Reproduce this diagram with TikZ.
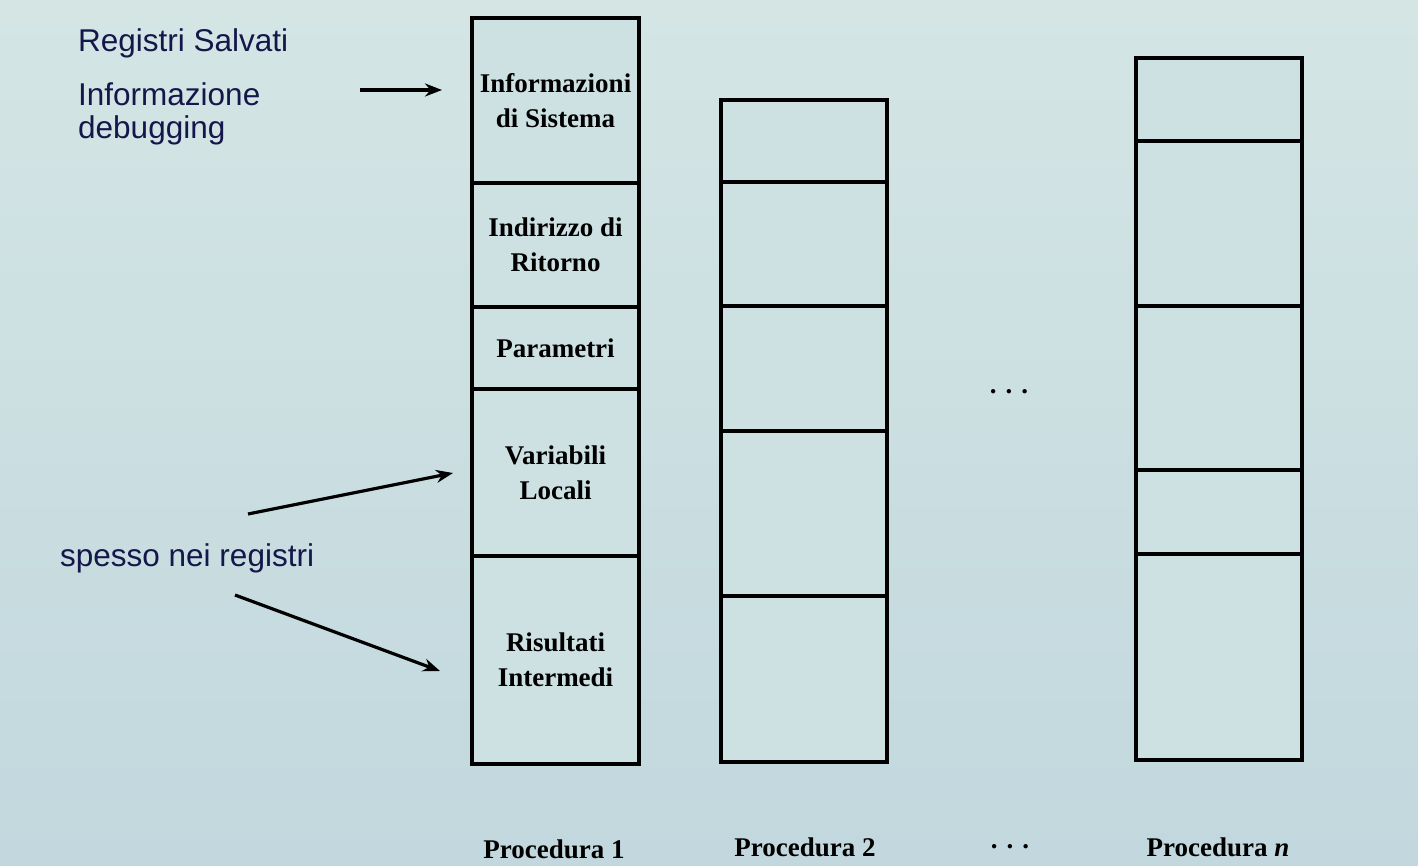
\documentclass[tikz,border=0pt]{standalone}
\usepackage{fontspec}
\setmainfont{Liberation Serif}
\newfontfamily\slidesans{Liberation Sans}
\usetikzlibrary{arrows.meta}
\definecolor{bgtop}{HTML}{D4E5E4}
\definecolor{bgbot}{HTML}{C2D8DE}
\definecolor{cellfill}{HTML}{CDE0E2}
\definecolor{navy}{HTML}{15174A}
\tikzset{
  cell/.style={draw=black, line width=3.2pt, fill=cellfill, inner sep=0pt, outer sep=0pt,
    align=center, font=\fontsize{27}{35}\selectfont\bfseries},
  lbl/.style={font=\fontsize{27}{35}\selectfont\bfseries, inner sep=0pt, anchor=base},
  side/.style={font=\slidesans\fontsize{31.5}{33}\selectfont, text=navy, inner sep=0pt, align=left},
  pointer/.style={line width=3.2pt, -{Stealth[length=17pt,width=13pt]}}
}
\newcommand{\spdots}{.\hspace{9pt}.\hspace{9pt}.}
\begin{document}
\begin{tikzpicture}[x=1pt,y=-1pt]
\shade[top color=bgtop, bottom color=bgbot] (0,0) rectangle (1418,866);
\useasboundingbox (0,0) rectangle (1418,866);

% Procedura 1
\node[cell, minimum width=167pt, minimum height=165pt] (p1a) at (555.5,100.5) {Informazioni\\di Sistema};
\node[cell, minimum width=167pt, minimum height=124pt] (p1b) at (555.5,245) {Indirizzo di\\Ritorno};
\node[cell, minimum width=167pt, minimum height=82pt] (p1c) at (555.5,348) {Parametri};
\node[cell, minimum width=167pt, minimum height=167pt] (p1d) at (555.5,472.5) {Variabili\\Locali};
\node[cell, minimum width=167pt, minimum height=208pt] (p1e) at (555.5,660) {Risultati\\Intermedi};

% Procedura 2
\node[cell, minimum width=166pt, minimum height=82pt] (p2a) at (804,141) {};
\node[cell, minimum width=166pt, minimum height=124pt] (p2b) at (804,244) {};
\node[cell, minimum width=166pt, minimum height=125pt] (p2c) at (804,368.5) {};
\node[cell, minimum width=166pt, minimum height=165pt] (p2d) at (804,513.5) {};
\node[cell, minimum width=166pt, minimum height=166pt] (p2e) at (804,679) {};

% Procedura n
\node[cell, minimum width=166pt, minimum height=83pt] (pna) at (1219,99.5) {};
\node[cell, minimum width=166pt, minimum height=165pt] (pnb) at (1219,223.5) {};
\node[cell, minimum width=166pt, minimum height=164pt] (pnc) at (1219,388) {};
\node[cell, minimum width=166pt, minimum height=84pt] (pnd) at (1219,512) {};
\node[cell, minimum width=166pt, minimum height=206pt] (pne) at (1219,657) {};

% dots
\node[lbl] (dotsmid) at (1009,393) {\spdots};
\node[lbl] (dotsbot) at (1010,848) {\spdots};

% bottom labels
\node[lbl] (l1) at (554,858) {Procedura 1};
\node[lbl] (l2) at (805,856) {Procedura 2};
\node[lbl] (ln) at (1218,856) {Procedura \textit{n}};

% side texts
\node[side, anchor=base west] (regs) at (78,52) {Registri Salvati};
\node[side, anchor=north west] (dbg) at (78,82) {Informazione\\debugging};
\node[side, anchor=base west] (spesso) at (60,566) {spesso nei registri};

% arrows
\coordinate (a1s) at (360,90);
\coordinate (a1e) at (442,90);
\coordinate (a2s) at (248,514);
\coordinate (a2e) at (453,473);
\coordinate (a3s) at (235,595);
\coordinate (a3e) at (440,671);
\draw[pointer] (a1s) -- (a1e);
\draw[pointer] (a2s) -- (a2e);
\draw[pointer] (a3s) -- (a3e);
\end{tikzpicture}
\end{document}
